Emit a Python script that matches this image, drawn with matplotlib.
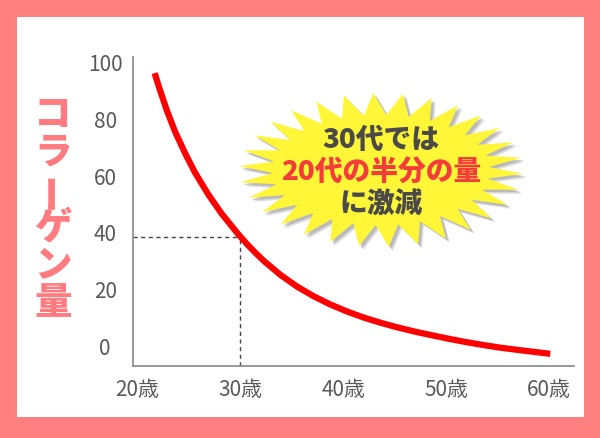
import matplotlib
matplotlib.use('Agg')
import matplotlib.pyplot as plt
import numpy as np
from matplotlib.patches import Rectangle, Polygon
from matplotlib.transforms import ScaledTranslation

plt.rcParams['font.family'] = ['Noto Sans CJK JP', 'DejaVu Sans']

# values
ages = [21.7, 22.2, 22.9, 23.7, 24.7, 25.6, 26.9, 28.2, 29.8, 30.7, 31.5, 32.3,
        33.9, 35.5, 37.1, 38.7, 40.4, 42.0, 43.6, 45.2, 47.0, 48.8, 50.4, 52.0,
        53.6, 55.2, 56.9, 58.5, 60.1]
collagen = [97.8, 92.0, 84.5, 77.0, 69.2, 62.8, 55.0, 48.2, 41.0, 37.3, 34.3, 31.5,
            26.6, 22.5, 19.1, 16.2, 13.6, 11.5, 9.7, 8.1, 6.5, 5.1, 3.9, 2.8,
            1.8, 0.9, 0.1, -0.6, -1.3]
x_ticks = [20, 30, 40, 50, 60]
x_labels = ['20歳', '30歳', '40歳', '50歳', '60歳']
y_ticks = [0, 20, 40, 60, 80, 100]
mark_age = 30
mark_value = 40
ylabel_chars = ['コ', 'ラ', 'ー', 'ゲ', 'ン', '量']
burst_lines = ['30代では', '20代の半分の量', 'に激減']
burst_colors = ['#4a4a4a', '#f53c3c', '#4a4a4a']

pink = '#ff8080'
W, H = 600, 438

fig = plt.figure(figsize=(6, 4.38), dpi=100)
fig.patch.set_facecolor(pink)
fig.patches.append(Rectangle((17 / W, 1 - 417 / H), (584 - 17) / W, (417 - 17) / H,
                             transform=fig.transFigure, facecolor='white',
                             edgecolor='none', zorder=-1))

ax = fig.add_axes([133 / W, 1 - 366 / H, (574 - 133) / W, (366 - 57) / H])
ax.set_facecolor('none')
ax.set_xlim(19.6, 62.4)
ax.set_ylim(-5.6, 103.5)

for s in ['top', 'right']:
    ax.spines[s].set_visible(False)
for s in ['left', 'bottom']:
    ax.spines[s].set_color('#888888')
    ax.spines[s].set_linewidth(1.2)

ax.set_xticks(x_ticks)
ax.set_xticklabels(x_labels)
ax.set_yticks(y_ticks)
ax.set_yticklabels([str(v) for v in y_ticks])
ax.tick_params(axis='both', length=0, labelsize=15, labelcolor='#5a5a5a')
ax.tick_params(axis='y', pad=20)
ax.tick_params(axis='x', pad=9)
up = ScaledTranslation(0, 4 / 100, fig.dpi_scale_trans)
for lab in ax.get_yticklabels():
    lab.set_ha('center')
    lab.set_transform(lab.get_transform() + up)

# dashed guide lines
ax.plot([ax.get_xlim()[0], mark_age], [mark_value, mark_value], ls=(0, (3, 2.5)),
        color='#444444', lw=1)
ax.plot([mark_age, mark_age], [ax.get_ylim()[0], mark_value], ls=(0, (3, 2.5)),
        color='#444444', lw=1)

ax.plot(ages, collagen, color='#ff0000', lw=4.5, solid_capstyle='butt',
        solid_joinstyle='round')

# overlay in pixel coordinates for decorations
ov = fig.add_axes([0, 0, 1, 1], zorder=5)
ov.set_xlim(0, W)
ov.set_ylim(H, 0)
ov.axis('off')
ov.patch.set_alpha(0)

# vertical y-axis title
for i, ch in enumerate(ylabel_chars):
    rot = 90 if ch == 'ー' else 0
    ov.text(53, 115 + i * 37.6, ch, ha='center', va='center', fontsize=27,
            fontweight='heavy', color='#ff7b7f', rotation=rot)

# starburst
n = 30
cx, cy = 381, 170
t = np.linspace(0, 2 * np.pi, 2 * n, endpoint=False) + 0.05
rx = np.where(np.arange(2 * n) % 2 == 0, 142, 108)
ry = np.where(np.arange(2 * n) % 2 == 0, 77, 55)
px = cx + rx * np.cos(t)
py = cy + ry * np.sin(t)
pts = np.column_stack([px, py])
ov.add_patch(Polygon(pts + [4, 4], closed=True, facecolor='#bbbbbb', edgecolor='none',
                     alpha=0.5))
ov.add_patch(Polygon(pts + [2.5, 2.5], closed=True, facecolor='#999999', edgecolor='none',
                     alpha=0.5))
ov.add_patch(Polygon(pts, closed=True, facecolor='#fff637', edgecolor='none'))

for i, (line, c) in enumerate(zip(burst_lines, burst_colors)):
    ov.text(381, 140 + i * 32, line, ha='center', va='center', fontsize=20,
            fontweight='heavy', color=c)

fig.savefig('out.png', dpi=100, facecolor=fig.get_facecolor())
